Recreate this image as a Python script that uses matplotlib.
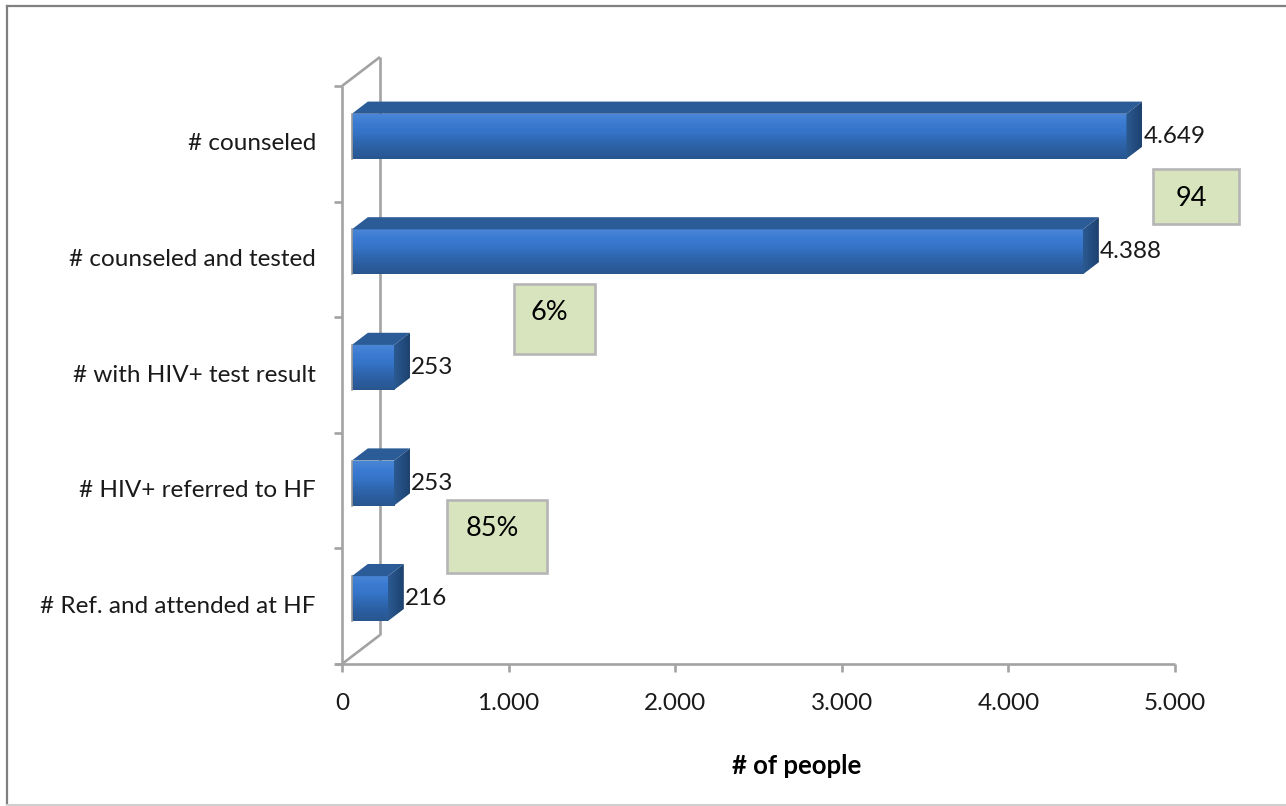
import matplotlib

matplotlib.use("Agg")
import matplotlib.pyplot as plt
import numpy as np
from matplotlib.colors import LinearSegmentedColormap
from matplotlib.lines import Line2D
from matplotlib.patches import Polygon, Rectangle

plt.rcParams["font.family"] = ["Lato", "DejaVu Sans"]

categories = [
    "# counseled",
    "# counseled and tested",
    "# with HIV+ test result",
    "# HIV+ referred to HF",
    "# Ref. and attended at HF",
]
values = [4649, 4388, 253, 253, 216]
x_ticks = [0, 1000, 2000, 3000, 4000, 5000]
x_label = "# of people"

pct_labels = ["94", "6%", "85%"]
# callout boxes: (left, right, bottom, top) in data units
pct_boxes = [
    (4868, 5384, 3.81, 4.28),
    (1032, 1519, 2.68, 3.29),
    (630, 1230, 0.79, 1.42),
]


def thousands(v):
    return f"{v:,}".replace(",", ".")


W, H = 1286, 806
fig = plt.figure(figsize=(W / 100, H / 100), dpi=100)
fig.patch.set_facecolor("white")

# front plane of the 3-D plot box, in pixels
left, right, top, bottom = 342, 1175, 86, 664
ax = fig.add_axes([left / W, (H - bottom) / H, (right - left) / W, (bottom - top) / H])
ax.set_xlim(0, 5000)
ax.set_ylim(0, len(categories))
ax.axis("off")

px_per_unit = (right - left) / 5000
band_px = (bottom - top) / len(categories)
DX = 38 / px_per_unit      # full depth, x offset
DY = 29 / band_px          # full depth, y offset
d0, d1 = 0.26, 0.68        # bar depth range
bar_h = 45 / band_px

wall = "#a3a3a3"
lw = 1.9
n = len(categories)
fs = 17.5
kw = dict(color=wall, lw=lw, clip_on=False, zorder=1, solid_capstyle="butt")
ax.plot([0, 0], [0, n], **kw)
ax.plot([0, DX], [n, n + DY], **kw)
ax.plot([DX, DX], [n + DY, DY], **kw)
ax.plot([0, DX], [0, DY], **kw)
ax.plot([-40, 5000], [0, 0], **kw)

tick_len_x = 8 / px_per_unit
for i in range(n + 1):
    ax.plot([-tick_len_x, 0], [i, i], **kw)
for t in x_ticks:
    ax.plot([t, t], [0, -8 / band_px], **kw)
    ax.text(t, -39 / band_px, thousands(t), ha="center", va="center",
            fontsize=fs, color="#1a1a1a", clip_on=False)

for i, cat in enumerate(categories):
    yc = n - 0.5 - i
    ax.text(-26 / px_per_unit, yc, cat, ha="right", va="center",
            fontsize=fs, color="#1a1a1a", clip_on=False)

front_cmap = LinearSegmentedColormap.from_list(
    "front", ["#4a86d6", "#3a7bd2", "#3574c8", "#2f68b2", "#2b5d9f", "#28568f"])
side_cmap = LinearSegmentedColormap.from_list("side", ["#2b5a92", "#1d426f"])
grad = np.linspace(0, 1, 64).reshape(-1, 1)

ox0, oy0 = d0 * DX, d0 * DY
ddx, ddy = (d1 - d0) * DX, (d1 - d0) * DY
for i, v in enumerate(values):
    yc = n - 0.5 - i + oy0
    yb, yt = yc - bar_h / 2, yc + bar_h / 2
    x0, x1 = ox0, v + ox0
    # front face with vertical gradient
    ax.imshow(grad, extent=[x0, x1, yb, yt], cmap=front_cmap, aspect="auto",
              origin="upper", zorder=3, interpolation="bilinear")
    ax.add_patch(Polygon([(x0, yt), (x1, yt), (x1 + ddx, yt + ddy), (x0 + ddx, yt + ddy)],
                         closed=True, facecolor="#2c5c97", edgecolor="none", zorder=3))
    side = Polygon([(x1, yb), (x1, yt), (x1 + ddx, yt + ddy), (x1 + ddx, yb + ddy)],
                   closed=True, facecolor="none", edgecolor="none", zorder=3)
    ax.add_patch(side)
    im = ax.imshow(np.linspace(0, 1, 32).reshape(1, -1), extent=[x1, x1 + ddx, yb, yt + ddy],
                   cmap=side_cmap, aspect="auto", zorder=3, interpolation="bilinear")
    im.set_clip_path(side)
    ax.plot([x0, x0], [yb, yt], color="#9a9a9a", lw=1.2, zorder=4)
    ax.text(x1 + ddx + 1 / px_per_unit, yc, thousands(v), ha="left", va="center",
            fontsize=fs, color="#1a1a1a", zorder=5, clip_on=False)

for lab, (bx0, bx1, by0, by1) in zip(pct_labels, pct_boxes):
    ax.add_patch(Rectangle((bx0, by0), bx1 - bx0, by1 - by0, facecolor="#d7e4bd",
                           edgecolor="#b5b5b5", lw=1.9, zorder=6, clip_on=False))
    ax.text((bx0 + bx1) / 2 - 5 / px_per_unit, by1 - 29 / band_px, lab,
            ha="center", va="center", fontsize=19.5, color="black", zorder=7, clip_on=False)

ax.set_xlim(0, 5000)
ax.set_ylim(0, n)

fig.text(797 / W, (H - 766) / H, x_label, ha="center", va="center",
         fontsize=18.5, fontweight="bold", color="black")

# outer chart frame
fig.add_artist(Line2D([7 / W, 7 / W], [1 / H, (H - 6) / H], color="#808080", lw=1.6,
                      transform=fig.transFigure))
fig.add_artist(Line2D([7 / W, 1], [(H - 6) / H, (H - 6) / H], color="#808080", lw=1.6,
                      transform=fig.transFigure))
fig.add_artist(Line2D([7 / W, 1], [1 / H, 1 / H], color="#d0d0d0", lw=1.5,
                      transform=fig.transFigure))

fig.savefig("out.png", dpi=100)
